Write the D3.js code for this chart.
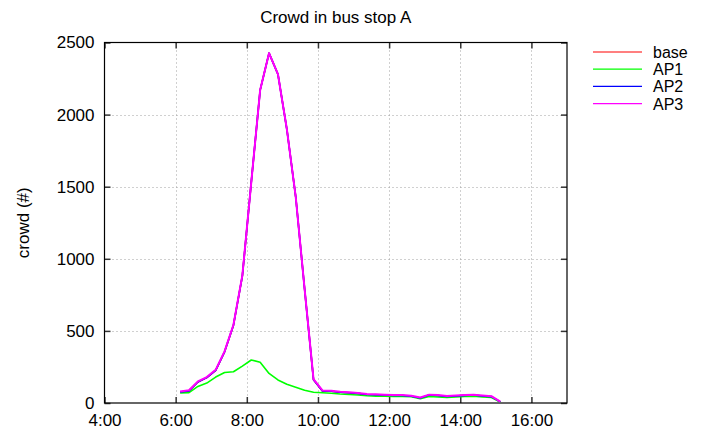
<!DOCTYPE html>
<html>
<head>
<meta charset="utf-8">
<script src="https://cdn.jsdelivr.net/npm/d3@7"></script>
<style>
  body { margin: 0; background: #fff; }
  svg { display: block; font-family: "Liberation Sans", Arial, sans-serif; }
</style>
</head>
<body>
<svg></svg>
<script>
// sample times (midpoints of 15 min bins)
let times = ["6:07:30","6:22:30","6:37:30","6:52:30","7:07:30","7:22:30","7:37:30","7:52:30",
             "8:07:30","8:22:30","8:37:30","8:52:30","9:07:30","9:22:30","9:37:30","9:52:30",
             "10:07:30","10:22:30","10:37:30","10:52:30","11:07:30","11:22:30","11:37:30","11:52:30",
             "12:07:30","12:22:30","12:37:30","12:52:30","13:07:30","13:22:30","13:37:30","13:52:30",
             "14:07:30","14:22:30","14:37:30","14:52:30","15:07:30"];

let base = [76, 84, 146, 176, 226, 355, 540, 882, 1530, 2170, 2426, 2280, 1900, 1430, 790, 162,
            84, 82, 75, 71, 67, 59, 57, 55, 53, 52, 47, 35, 55, 52, 45, 49, 53, 55, 49, 44, 8];
let ap1  = [70, 72, 115, 138, 180, 212, 217, 256, 298, 283, 205, 160, 130, 110, 88, 75,
            71, 68, 62, 59, 55, 50, 48, 47, 46, 45, 44, 30, 45, 42, 38, 42, 45, 47, 42, 38, 7];
let ap2  = base;
let ap3  = [80, 88, 150, 180, 230, 358, 543, 885, 1530, 2170, 2426, 2280, 1900, 1430, 790, 165,
            87, 85, 78, 74, 70, 62, 60, 58, 56, 55, 50, 38, 58, 55, 48, 52, 56, 58, 52, 47, 10];

let seriesNames = ["base", "AP1", "AP2", "AP3"];
let seriesColors = ["#ff0000", "#00ff00", "#0000ff", "#ff00ff"];
let xTickLabels = ["4:00", "6:00", "8:00", "10:00", "12:00", "14:00", "16:00"];
let yTicks = [0, 500, 1000, 1500, 2000, 2500];

let width = 704;
let height = 432;
let plotLeft = 104.5, plotRight = 567, plotTop = 42.5, plotBottom = 403;
let fontSize = 17;

let svg = d3.select("svg").attr("width", width).attr("height", height);

let toHours = (s) => {
    let p = s.split(":").map(Number);
    return p[0] + (p[1] || 0) / 60 + (p[2] || 0) / 3600;
};

let xScale = d3.scaleLinear().domain([4, 17]).range([plotLeft, plotRight]);
let yScale = d3.scaleLinear().domain([0, 2500]).range([plotBottom, plotTop]);

let xTickVals = xTickLabels.map(toHours);

// grid
let grid = svg.append("g").attr("stroke", "#a0a0a0").attr("stroke-width", 1)
              .attr("stroke-dasharray", "1,3");
grid.selectAll(".gx").data(xTickVals.slice(1)).enter().append("line")
    .attr("x1", (d) => Math.round(xScale(d)) + 0.5).attr("x2", (d) => Math.round(xScale(d)) + 0.5)
    .attr("y1", plotTop).attr("y2", plotBottom);
grid.selectAll(".gy").data(yTicks.slice(1, -1)).enter().append("line")
    .attr("x1", plotLeft).attr("x2", plotRight)
    .attr("y1", (d) => Math.round(yScale(d)) + 0.5).attr("y2", (d) => Math.round(yScale(d)) + 0.5);

// axes
let fmt = (d) => xTickLabels[xTickVals.indexOf(d)];
svg.append("g").attr("transform", "translate(0," + plotBottom + ")")
   .call(d3.axisBottom(xScale).tickValues(xTickVals).tickFormat(fmt).tickSizeInner(-6).tickSizeOuter(0).tickPadding(11));
svg.append("g").attr("transform", "translate(0," + plotTop + ")")
   .call(d3.axisTop(xScale).tickValues(xTickVals).tickFormat("").tickSizeInner(-6).tickSizeOuter(0));
svg.append("g").attr("transform", "translate(" + plotLeft + ",0)")
   .call(d3.axisLeft(yScale).tickValues(yTicks).tickFormat(d3.format("d")).tickSizeInner(-6).tickSizeOuter(0).tickPadding(10));
svg.append("g").attr("transform", "translate(" + plotRight + ",0)")
   .call(d3.axisRight(yScale).tickValues(yTicks).tickFormat("").tickSizeInner(-6).tickSizeOuter(0));

svg.selectAll(".domain").remove();
svg.selectAll(".tick line").attr("stroke", "#333").attr("stroke-width", 1.5);
svg.selectAll(".tick text").attr("font-size", fontSize).attr("fill", "#000")
   .attr("font-family", "Liberation Sans, Arial, sans-serif");

// frame
svg.append("rect").attr("x", plotLeft).attr("y", plotTop)
   .attr("width", plotRight - plotLeft).attr("height", plotBottom - plotTop)
   .attr("fill", "none").attr("stroke", "#000").attr("stroke-width", 1.2);

// lines
let allSeries = [base, ap1, ap2, ap3];
let line = d3.line().x((d, i) => xScale(toHours(times[i]))).y((d) => yScale(d));
svg.selectAll(".series").data(allSeries).enter().append("path")
   .attr("d", (d) => line(d))
   .attr("fill", "none")
   .attr("stroke", (d, i) => seriesColors[i])
   .attr("stroke-width", (d, i) => i == 3 ? 2 : 1.6)
   .attr("stroke-linejoin", "round");

// title + y label
svg.append("text").attr("x", (plotLeft + plotRight) / 2).attr("y", 23).attr("text-anchor", "middle")
   .attr("font-size", fontSize).text("Crowd in bus stop A");
svg.append("text").attr("transform", "translate(29," + ((plotTop + plotBottom) / 2) + ") rotate(-90)")
   .attr("text-anchor", "middle").attr("font-size", fontSize).text("crowd (#)");

// legend
let legend = svg.append("g");
seriesNames.forEach((name, i) => {
    let y = 52 + i * 17.2;
    legend.append("line").attr("x1", 593).attr("x2", 642).attr("y1", y).attr("y2", y)
          .attr("stroke", seriesColors[i]).attr("stroke-width", 1.2);
    legend.append("text").attr("x", 653).attr("y", y + 6).attr("font-size", 16).text(name);
});
</script>
</body>
</html>
